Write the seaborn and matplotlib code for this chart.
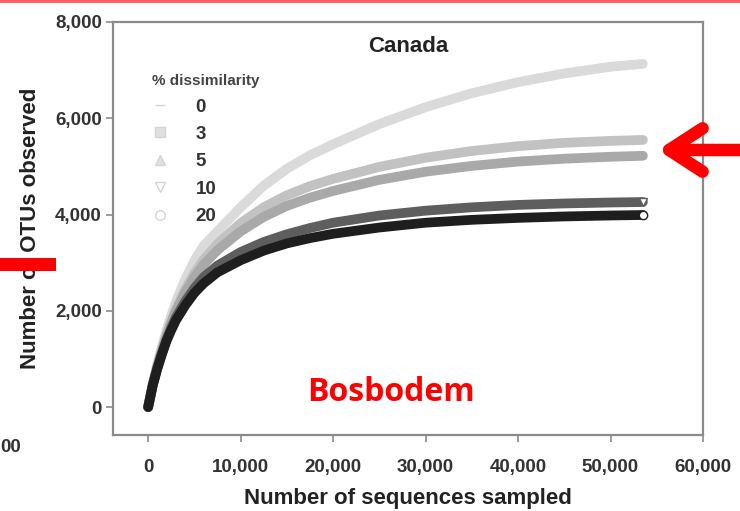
import pandas as pd
import matplotlib.pyplot as plt
import seaborn as sns
from matplotlib.lines import Line2D
from matplotlib.patches import Rectangle

# values (sequences sampled vs OTUs observed)
seqs = [0, 500, 1000, 1500, 2000, 2500, 3000, 4000, 5000, 6000, 7500, 10000,
        12500, 15000, 17500, 20000, 25000, 30000, 35000, 40000, 45000, 50000, 53500]
otu_0 = [0, 490, 900, 1260, 1600, 1900, 2180, 2650, 3040, 3350, 3650, 4150,
         4600, 4950, 5230, 5460, 5880, 6230, 6520, 6750, 6930, 7070, 7130]
otu_3 = [0, 475, 860, 1200, 1510, 1780, 2030, 2440, 2780, 3060, 3390, 3820,
         4150, 4400, 4590, 4740, 4990, 5180, 5320, 5420, 5490, 5530, 5550]
otu_5 = [0, 470, 850, 1180, 1480, 1750, 1990, 2380, 2700, 2960, 3260, 3650,
         3950, 4180, 4350, 4490, 4720, 4890, 5010, 5100, 5160, 5200, 5220]
otu_10 = [0, 460, 820, 1130, 1410, 1650, 1860, 2190, 2470, 2700, 2940, 3220,
          3430, 3590, 3720, 3830, 3980, 4080, 4150, 4200, 4230, 4250, 4260]
otu_20 = [0, 450, 800, 1100, 1380, 1600, 1800, 2110, 2370, 2570, 2800, 3050,
          3250, 3400, 3510, 3600, 3730, 3830, 3890, 3930, 3960, 3980, 3990]

levels = ['0', '3', '5', '10', '20']
colors = ['#dadada', '#c2c2c2', '#a9a9a9', '#5e5e5e', '#1e1e1e']
legend_marks = ['_', 's', '^', 'v', 'o']

frames = []
for lev, vals in zip(levels, [otu_0, otu_3, otu_5, otu_10, otu_20]):
    frames.append(pd.DataFrame({'seqs': seqs, 'otus': vals, 'diss': lev}))
df = pd.concat(frames, ignore_index=True)

sns.set_theme(style='white')
plt.rcParams['font.family'] = ['Liberation Sans', 'DejaVu Sans']
plt.rcParams['font.weight'] = 'bold'

fig = plt.figure(figsize=(7.4, 5.11), dpi=100)
ax = fig.add_axes([0.1527, 0.1487, 0.7973, 0.8083])

sns.lineplot(data=df, x='seqs', y='otus', hue='diss', hue_order=levels,
             palette=dict(zip(levels, colors)), linewidth=7, legend=False,
             ax=ax, solid_capstyle='round')

# end markers for the two lowest curves
ax.plot(seqs[-1], otu_10[-1], marker='v', ms=6, color='white', mec='#5e5e5e', ls='none')
ax.plot(seqs[-1], otu_20[-1], marker='o', ms=6, color='white', mec='#1e1e1e', ls='none')

ax.set_xlim(-3800, 60000)
ax.set_ylim(-580, 8000)
ax.set_xticks(range(0, 60001, 10000))
ax.set_yticks(range(0, 8001, 2000))
ax.xaxis.set_major_formatter(plt.FuncFormatter(lambda v, p: f'{int(v):,}'))
ax.yaxis.set_major_formatter(plt.FuncFormatter(lambda v, p: f'{int(v):,}'))
for s in ax.spines.values():
    s.set_color('#8a8a8a')
    s.set_linewidth(1.6)
ax.tick_params(axis='both', which='major', direction='out', length=5, width=1.2,
               color='#8a8a8a', labelsize=13.5, labelcolor='#333333', pad=3,
               bottom=True, left=True)
ax.tick_params(axis='x', pad=12)
for lab in ax.get_xticklabels() + ax.get_yticklabels():
    lab.set_fontweight('bold')

ax.set_xlabel('Number of sequences sampled', fontsize=16, fontweight='bold',
              color='#222222', labelpad=9)
ax.set_ylabel('Number of OTUs observed', fontsize=16, fontweight='bold',
              color='#222222', labelpad=10)
ax.text(0.5, 0.965, 'Canada', transform=ax.transAxes, ha='center', va='top',
        fontsize=16, fontweight='bold', color='#222222')

handles = [Line2D([], [], ls='none', marker=m, ms=7, color='#dcdcdc',
                  mfc='none' if m in 'vo' else '#e0e0e0', mec='#d4d4d4')
           for m in legend_marks]
leg = ax.legend(handles, levels, title='% dissimilarity', loc='upper left',
                bbox_to_anchor=(0.054, 0.892), frameon=False, fontsize=13.5,
                title_fontsize=11, handlelength=0.8, handletextpad=1.5,
                labelspacing=0.55, alignment='left', borderaxespad=0)
for t in leg.get_texts():
    t.set_fontweight('bold')
    t.set_color('#333333')
leg.get_title().set_fontweight('bold')
leg.get_title().set_color('#444444')

# slide annotations in red
ax.text(0.471, 0.102, 'Bosbodem', transform=ax.transAxes, ha='center', va='center',
        fontsize=23, fontweight='bold', color='#ff0000', family=['Open Sans', 'DejaVu Sans'])
fig.add_artist(Rectangle((0, 1 - 3 / 511), 1, 3 / 511, transform=fig.transFigure,
                         color='#ff6060', lw=0))
fig.add_artist(Rectangle((0, 1 - 271 / 511), 56 / 740, 13 / 511, transform=fig.transFigure,
                         color='#ff0000', lw=0))
fig.text(0.0, 1 - 447 / 511, '00', ha='left', va='center', fontsize=13.5,
         fontweight='bold', color='#333333')
ax.annotate('', xy=(655 / 740, 1 - 150 / 511), xytext=(1.02, 1 - 150 / 511),
            xycoords='figure fraction', textcoords='figure fraction',
            arrowprops=dict(arrowstyle='->, head_length=2.0, head_width=1.3',
                            color='#ff0000', lw=9, capstyle='round',
                            joinstyle='round'),
            annotation_clip=False)

fig.savefig('out.png', dpi=100)
